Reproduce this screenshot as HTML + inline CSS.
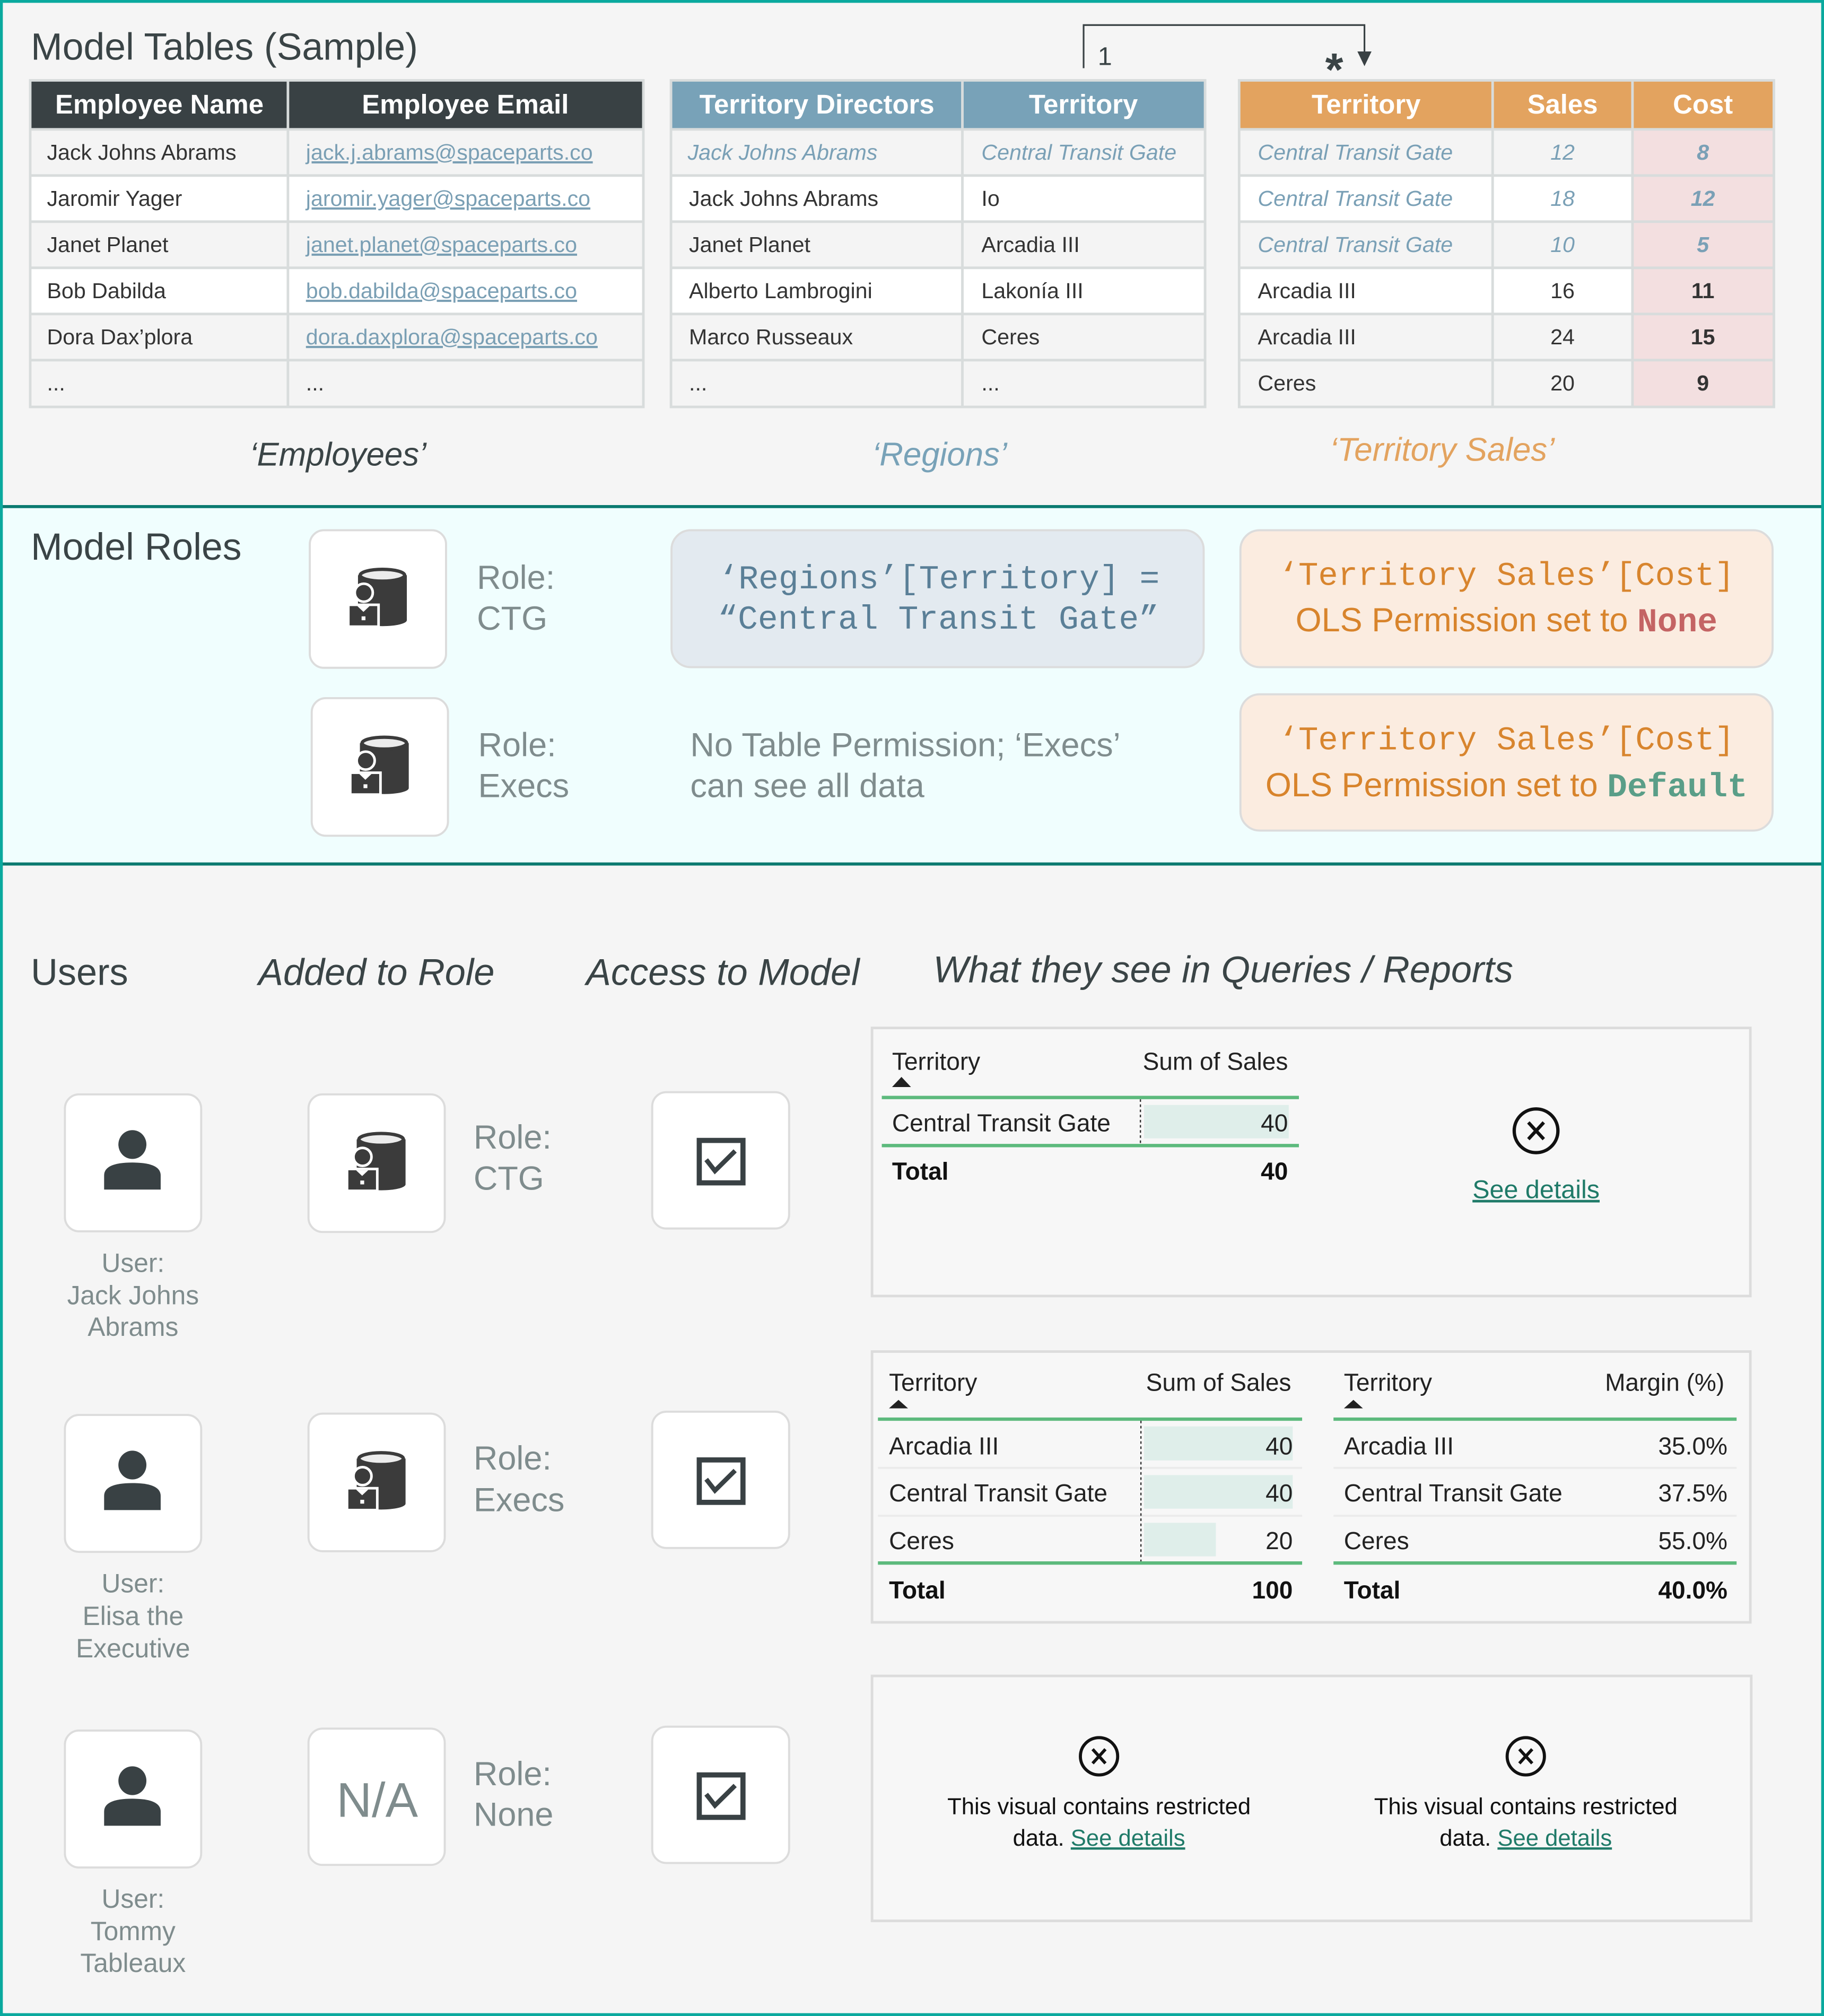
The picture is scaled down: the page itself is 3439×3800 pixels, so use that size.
<!DOCTYPE html>
<html><head><meta charset="utf-8"><style>
html,body{margin:0;padding:0;width:3439px;height:3800px;overflow:hidden;background:#f5f5f5}
svg{display:block}
text{font-family:"Liberation Sans",sans-serif}
.m{font-family:"Liberation Mono",monospace}
</style></head><body>
<svg width="3439" height="3800" viewBox="0 0 1419 1568" preserveAspectRatio="none" xmlns="http://www.w3.org/2000/svg">
<defs>
<g id="db">
<rect x="0" y="0" width="106" height="107" rx="11" fill="#ffffff" stroke="#dcdcdc" stroke-width="1.6"/>
<path d="M37.5,35 V70 A19,4.6 0 0 0 75.5,70 V35 Z" fill="#3b3b3b"/>
<ellipse cx="56.5" cy="35" rx="17.3" ry="4.6" fill="#ececec" stroke="#3b3b3b" stroke-width="2.6"/>
<circle cx="42" cy="48.6" r="7" fill="#3b3b3b" stroke="#ffffff" stroke-width="2"/>
<rect x="30" y="58" width="23.5" height="17" fill="#3b3b3b" stroke="#ffffff" stroke-width="2"/>
<polygon points="37,59 41.75,63.5 46.5,59" fill="#ffffff"/>
<rect x="40.3" y="67" width="3" height="3" fill="#ffffff"/>
</g>
<g id="user">
<rect x="0" y="0" width="106" height="106.5" rx="11" fill="#ffffff" stroke="#dcdcdc" stroke-width="1.6"/>
<ellipse cx="52.5" cy="39" rx="10.9" ry="11.2" fill="#394144"/>
<path d="M30.5,74 V63 Q30.5,53 52.5,53 Q74.5,53 74.5,63 V74 Z" fill="#394144"/>
</g>
<g id="chk">
<rect x="0" y="0" width="106.5" height="106" rx="11" fill="#ffffff" stroke="#dcdcdc" stroke-width="1.6"/>
<rect x="36.6" y="37.5" width="34" height="33" fill="#ffffff" stroke="#394144" stroke-width="4"/>
<polyline points="42,52.5 48.8,61.2 64.5,45.7" fill="none" stroke="#394144" stroke-width="3.6"/>
</g>
</defs>

<!-- backgrounds -->
<rect x="0" y="0" width="1419" height="1568" fill="#f5f5f5"/>
<rect x="0" y="394" width="1419" height="278" fill="#f0fefe"/>
<line x1="0" y1="394" x2="1419" y2="394" stroke="#0b7a70" stroke-width="2.4"/>
<line x1="0" y1="672" x2="1419" y2="672" stroke="#0b7a70" stroke-width="2.4"/>
<rect x="1" y="1" width="1417" height="1566" fill="none" stroke="#0aa99e" stroke-width="2.4"/>

<!-- Section 1 title -->
<text x="24" y="46.5" font-size="29.5" fill="#3a4446">Model Tables (Sample)</text>

<!-- relationship -->
<path d="M843,53 V19.5 H1061.5 V42" fill="none" stroke="#394144" stroke-width="1.3"/>
<polygon points="1056,40 1067,40 1061.5,51.5" fill="#394144"/>
<text x="854" y="50.5" font-size="20" fill="#3a4446">1</text>
<text x="1038" y="66.5" font-size="36" font-weight="bold" fill="#3a4446" text-anchor="middle">*</text>

<!-- Table 1 -->
<g>
<rect x="24" y="100.6" width="476" height="35.9" fill="#f4f4f4"/>
<rect x="24" y="136.5" width="476" height="35.9" fill="#ffffff"/>
<rect x="24" y="172.4" width="476" height="35.9" fill="#f4f4f4"/>
<rect x="24" y="208.3" width="476" height="35.9" fill="#ffffff"/>
<rect x="24" y="244.2" width="476" height="35.9" fill="#f4f4f4"/>
<rect x="24" y="280.1" width="476" height="35.9" fill="#f4f4f4"/>
<rect x="24" y="63" width="476" height="37.6" fill="#394144"/>
<g stroke="#d8dcdc" stroke-width="2">
<rect x="23.5" y="62.5" width="477" height="254" fill="none"/>
<line x1="224" y1="63" x2="224" y2="316"/>
<line x1="24" y1="100.6" x2="500" y2="100.6"/>
<line x1="24" y1="136.5" x2="500" y2="136.5"/>
<line x1="24" y1="172.4" x2="500" y2="172.4"/>
<line x1="24" y1="208.3" x2="500" y2="208.3"/>
<line x1="24" y1="244.2" x2="500" y2="244.2"/>
<line x1="24" y1="280.1" x2="500" y2="280.1"/>
</g>
<text x="124" y="88.4" font-size="21" font-weight="bold" fill="#ffffff" text-anchor="middle">Employee Name</text>
<text x="362" y="88.4" font-size="21" font-weight="bold" fill="#ffffff" text-anchor="middle">Employee Email</text>
<g font-size="17" fill="#333">
<text x="36.5" y="124.2">Jack Johns Abrams</text>
<text x="36.5" y="160.1">Jaromir Yager</text>
<text x="36.5" y="196">Janet Planet</text>
<text x="36.5" y="231.9">Bob Dabilda</text>
<text x="36.5" y="267.8">Dora Dax’plora</text>
<text x="36.5" y="303.7">...</text>
<text x="238" y="303.7">...</text>
</g>
<g font-size="17" fill="#7a9fb4" style="text-decoration:underline">
<text x="238" y="124.2">jack.j.abrams@spaceparts.co</text>
<text x="238" y="160.1">jaromir.yager@spaceparts.co</text>
<text x="238" y="196">janet.planet@spaceparts.co</text>
<text x="238" y="231.9">bob.dabilda@spaceparts.co</text>
<text x="238" y="267.8">dora.daxplora@spaceparts.co</text>
</g>
</g>

<!-- Table 2 -->
<g>
<rect x="522.5" y="100.6" width="414.5" height="35.9" fill="#f4f4f4"/>
<rect x="522.5" y="136.5" width="414.5" height="35.9" fill="#ffffff"/>
<rect x="522.5" y="172.4" width="414.5" height="35.9" fill="#f4f4f4"/>
<rect x="522.5" y="208.3" width="414.5" height="35.9" fill="#ffffff"/>
<rect x="522.5" y="244.2" width="414.5" height="35.9" fill="#f4f4f4"/>
<rect x="522.5" y="280.1" width="414.5" height="35.9" fill="#f4f4f4"/>
<rect x="522.5" y="63" width="414.5" height="37.6" fill="#78a2b8"/>
<g stroke="#d8dcdc" stroke-width="2">
<rect x="522" y="62.5" width="415.5" height="254" fill="none"/>
<line x1="748.7" y1="63" x2="748.7" y2="316"/>
<line x1="522.5" y1="100.6" x2="937" y2="100.6"/>
<line x1="522.5" y1="136.5" x2="937" y2="136.5"/>
<line x1="522.5" y1="172.4" x2="937" y2="172.4"/>
<line x1="522.5" y1="208.3" x2="937" y2="208.3"/>
<line x1="522.5" y1="244.2" x2="937" y2="244.2"/>
<line x1="522.5" y1="280.1" x2="937" y2="280.1"/>
</g>
<text x="635.5" y="88.4" font-size="21" font-weight="bold" fill="#ffffff" text-anchor="middle">Territory Directors</text>
<text x="842.8" y="88.4" font-size="21" font-weight="bold" fill="#ffffff" text-anchor="middle">Territory</text>
<g font-size="17" fill="#7aa0b6" font-style="italic">
<text x="535" y="124.2">Jack Johns Abrams</text>
<text x="763.5" y="124.2">Central Transit Gate</text>
</g>
<g font-size="17" fill="#333">
<text x="536" y="160.1">Jack Johns Abrams</text>
<text x="536" y="196">Janet Planet</text>
<text x="536" y="231.9">Alberto Lambrogini</text>
<text x="536" y="267.8">Marco Russeaux</text>
<text x="536" y="303.7">...</text>
<text x="763.5" y="160.1">Io</text>
<text x="763.5" y="196">Arcadia III</text>
<text x="763.5" y="231.9">Lakonía III</text>
<text x="763.5" y="267.8">Ceres</text>
<text x="763.5" y="303.7">...</text>
</g>
</g>

<!-- Table 3 -->
<g>
<rect x="964.5" y="100.6" width="415" height="35.9" fill="#f4f4f4"/>
<rect x="964.5" y="136.5" width="415" height="35.9" fill="#ffffff"/>
<rect x="964.5" y="172.4" width="415" height="35.9" fill="#f4f4f4"/>
<rect x="964.5" y="208.3" width="415" height="35.9" fill="#ffffff"/>
<rect x="964.5" y="244.2" width="415" height="35.9" fill="#f4f4f4"/>
<rect x="964.5" y="280.1" width="415" height="35.9" fill="#f4f4f4"/>
<rect x="1270" y="100.6" width="109.5" height="215.4" fill="#f3dfe0"/>
<rect x="964.5" y="63" width="415" height="37.6" fill="#e3a35f"/>
<g stroke="#d8dcdc" stroke-width="2">
<rect x="964" y="62.5" width="416" height="254" fill="none"/>
<line x1="1161.2" y1="63" x2="1161.2" y2="316"/>
<line x1="1270" y1="63" x2="1270" y2="316"/>
<line x1="964.5" y1="100.6" x2="1380" y2="100.6"/>
<line x1="964.5" y1="136.5" x2="1380" y2="136.5"/>
<line x1="964.5" y1="172.4" x2="1380" y2="172.4"/>
<line x1="964.5" y1="208.3" x2="1380" y2="208.3"/>
<line x1="964.5" y1="244.2" x2="1380" y2="244.2"/>
<line x1="964.5" y1="280.1" x2="1380" y2="280.1"/>
</g>
<text x="1062.8" y="88.4" font-size="21" font-weight="bold" fill="#ffffff" text-anchor="middle">Territory</text>
<text x="1215.6" y="88.4" font-size="21" font-weight="bold" fill="#ffffff" text-anchor="middle">Sales</text>
<text x="1324.8" y="88.4" font-size="21" font-weight="bold" fill="#ffffff" text-anchor="middle">Cost</text>
<g font-size="17" fill="#7aa0b6" font-style="italic">
<text x="978.5" y="124.2">Central Transit Gate</text>
<text x="978.5" y="160.1">Central Transit Gate</text>
<text x="978.5" y="196">Central Transit Gate</text>
<text x="1215.6" y="124.2" text-anchor="middle">12</text>
<text x="1215.6" y="160.1" text-anchor="middle">18</text>
<text x="1215.6" y="196" text-anchor="middle">10</text>
<text x="1324.8" y="124.2" text-anchor="middle" font-weight="bold">8</text>
<text x="1324.8" y="160.1" text-anchor="middle" font-weight="bold">12</text>
<text x="1324.8" y="196" text-anchor="middle" font-weight="bold">5</text>
</g>
<g font-size="17" fill="#333">
<text x="978.5" y="231.9">Arcadia III</text>
<text x="978.5" y="267.8">Arcadia III</text>
<text x="978.5" y="303.7">Ceres</text>
<text x="1215.6" y="231.9" text-anchor="middle">16</text>
<text x="1215.6" y="267.8" text-anchor="middle">24</text>
<text x="1215.6" y="303.7" text-anchor="middle">20</text>
<text x="1324.8" y="231.9" text-anchor="middle" font-weight="bold">11</text>
<text x="1324.8" y="267.8" text-anchor="middle" font-weight="bold">15</text>
<text x="1324.8" y="303.7" text-anchor="middle" font-weight="bold">9</text>
</g>
</g>

<!-- Table labels -->
<text x="263" y="362" font-size="25.5" font-style="italic" fill="#3a4446" text-anchor="middle">‘Employees’</text>
<text x="731" y="362" font-size="25.5" font-style="italic" fill="#78a2b8" text-anchor="middle">‘Regions’</text>
<text x="1122" y="358.3" font-size="25.5" font-style="italic" fill="#e3a35f" text-anchor="middle">‘Territory Sales’</text>

<!-- Section 2 -->
<text x="24" y="435.4" font-size="29.5" fill="#3a4446">Model Roles</text>
<use href="#db" x="241" y="412.4"/>
<use href="#db" x="242.5" y="543"/>
<g font-size="26" fill="#7f8c8d">
<text x="371" y="458">Role:</text>
<text x="371" y="489.7">CTG</text>
<text x="372" y="588.3">Role:</text>
<text x="372" y="620">Execs</text>
<text x="537" y="588.3">No Table Permission; ‘Execs’</text>
<text x="537" y="620">can see all data</text>
</g>
<rect x="522.4" y="412.4" width="414" height="106.5" rx="15" fill="#e3eaf0" stroke="#dcdcdc" stroke-width="1.6"/>
<g class="m" font-size="26" fill="#5a7f97" text-anchor="middle">
<text class="m" x="730.5" y="457.6">‘Regions’[Territory] =</text>
<text class="m" x="730" y="489">“Central Transit Gate”</text>
</g>
<rect x="965" y="412.4" width="414" height="106.5" rx="15" fill="#fbece0" stroke="#dcdcdc" stroke-width="1.6"/>
<rect x="965" y="540" width="414" height="106" rx="15" fill="#fbece0" stroke="#dcdcdc" stroke-width="1.6"/>
<text class="m" x="1172" y="455" font-size="25.7" fill="#d8852e" text-anchor="middle">‘Territory Sales’[Cost]</text>
<text x="1172" y="491" font-size="26" fill="#d8842c" text-anchor="middle">OLS Permission set to <tspan class="m" font-weight="bold" fill="#c46464">None</tspan></text>
<text class="m" x="1172" y="582.8" font-size="25.7" fill="#d8852e" text-anchor="middle">‘Territory Sales’[Cost]</text>
<text x="1172" y="619.3" font-size="26" fill="#d8842c" text-anchor="middle">OLS Permission set to <tspan class="m" font-weight="bold" fill="#5a9e88">Default</tspan></text>

<!-- Section 3 headers -->
<text x="24" y="766" font-size="29" fill="#3a4446">Users</text>
<g font-size="29" font-style="italic" fill="#3a4446">
<text x="201" y="766">Added to Role</text>
<text x="456" y="766">Access to Model</text>
<text x="726" y="764">What they see in Queries / Reports</text>
</g>

<!-- rows -->
<use href="#user" x="50.5" y="851.2"/>
<use href="#db" x="240" y="851.2"/>
<use href="#chk" x="507.4" y="849.5"/>
<use href="#user" x="50.5" y="1100.5"/>
<use href="#db" x="240" y="1099.5"/>
<use href="#chk" x="507.4" y="1098"/>
<use href="#user" x="50.5" y="1346"/>
<rect x="240" y="1344.5" width="106" height="106" rx="11" fill="#ffffff" stroke="#dcdcdc" stroke-width="1.6"/>
<text x="293.5" y="1413" font-size="38" fill="#7f8c8d" text-anchor="middle">N/A</text>
<use href="#chk" x="507.4" y="1343"/>

<g font-size="26" fill="#7f8c8d">
<text x="368.4" y="893.3">Role:</text>
<text x="368.4" y="925.3">CTG</text>
<text x="368.4" y="1142.9">Role:</text>
<text x="368.4" y="1175.4">Execs</text>
<text x="368.4" y="1388.5">Role:</text>
<text x="368.4" y="1420">None</text>
</g>
<g font-size="20.5" fill="#7f8c8d" text-anchor="middle">
<text x="103.5" y="989.2">User:</text>
<text x="103.5" y="1014.4">Jack Johns</text>
<text x="103.5" y="1039">Abrams</text>
<text x="103.5" y="1238.5">User:</text>
<text x="103.5" y="1263.8">Elisa the</text>
<text x="103.5" y="1289">Executive</text>
<text x="103.5" y="1483.8">User:</text>
<text x="103.5" y="1509">Tommy</text>
<text x="103.5" y="1533.8">Tableaux</text>
</g>

<!-- Panel 1 -->
<rect x="678.4" y="799.5" width="683.3" height="208.5" fill="#f7f7f7" stroke="#dcdcdc" stroke-width="2"/>
<g font-size="19" fill="#222">
<text x="694" y="832">Territory</text>
<text x="1002" y="832" text-anchor="end">Sum of Sales</text>
</g>
<polygon points="694,845.5 701.3,837.6 708.7,845.5" fill="#222"/>
<line x1="686" y1="853.6" x2="1010.5" y2="853.6" stroke="#5dba7d" stroke-width="2.6"/>
<rect x="890" y="859.4" width="112.6" height="26" fill="#dfeeea"/>
<line x1="887.2" y1="855" x2="887.2" y2="889.5" stroke="#333" stroke-width="1" stroke-dasharray="2,2"/>
<g font-size="19" fill="#222">
<text x="694" y="880">Central Transit Gate</text>
<text x="1002" y="880" text-anchor="end">40</text>
</g>
<line x1="686" y1="891" x2="1010.5" y2="891" stroke="#5dba7d" stroke-width="2.6"/>
<g font-size="19" fill="#111" font-weight="bold">
<text x="694" y="917.5">Total</text>
<text x="1002" y="917.5" text-anchor="end">40</text>
</g>
<circle cx="1195" cy="879.5" r="17" fill="none" stroke="#111" stroke-width="2.6"/>
<path d="M1189,873 L1201,886 M1201,873 L1189,886" stroke="#111" stroke-width="2.6"/>
<text x="1195" y="932" font-size="20" fill="#1f7a68" text-anchor="middle" style="text-decoration:underline">See details</text>

<!-- Panel 2 -->
<rect x="678.4" y="1051.2" width="683.3" height="210.6" fill="#f7f7f7" stroke="#dcdcdc" stroke-width="2"/>
<g font-size="19" fill="#222">
<text x="691.6" y="1081.7">Territory</text>
<text x="1004.5" y="1081.7" text-anchor="end">Sum of Sales</text>
<text x="1045.5" y="1081.7">Territory</text>
<text x="1341.5" y="1081.7" text-anchor="end">Margin (%)</text>
</g>
<polygon points="691.6,1095.4 699,1088.8 706.4,1095.4" fill="#222"/>
<polygon points="1045.5,1095.4 1052.9,1088.8 1060.3,1095.4" fill="#222"/>
<rect x="890" y="1109.4" width="115.7" height="26.5" fill="#dfeeea"/>
<rect x="890" y="1147.3" width="115.7" height="26.1" fill="#dfeeea"/>
<rect x="890" y="1184.4" width="55.9" height="26.1" fill="#dfeeea"/>
<g stroke="#ebebeb" stroke-width="1.5">
<line x1="683" y1="1141.7" x2="1013" y2="1141.7"/>
<line x1="683" y1="1178.9" x2="1013" y2="1178.9"/>
<line x1="1037.4" y1="1141.7" x2="1351" y2="1141.7"/>
<line x1="1037.4" y1="1178.9" x2="1351" y2="1178.9"/>
</g>
<line x1="887.6" y1="1105" x2="887.6" y2="1215" stroke="#333" stroke-width="1" stroke-dasharray="2,2"/>
<g stroke="#5dba7d" stroke-width="2.6">
<line x1="683" y1="1103.8" x2="1013" y2="1103.8"/>
<line x1="683" y1="1215.7" x2="1013" y2="1215.7"/>
<line x1="1037.4" y1="1103.8" x2="1351" y2="1103.8"/>
<line x1="1037.4" y1="1215.7" x2="1351" y2="1215.7"/>
</g>
<g font-size="19" fill="#222">
<text x="691.6" y="1131.2">Arcadia III</text>
<text x="691.6" y="1167.8">Central Transit Gate</text>
<text x="691.6" y="1204.9">Ceres</text>
<text x="1005.7" y="1131.2" text-anchor="end">40</text>
<text x="1005.7" y="1167.8" text-anchor="end">40</text>
<text x="1005.7" y="1204.9" text-anchor="end">20</text>
<text x="1045.5" y="1131.2">Arcadia III</text>
<text x="1045.5" y="1167.8">Central Transit Gate</text>
<text x="1045.5" y="1204.9">Ceres</text>
<text x="1343.9" y="1131.2" text-anchor="end">35.0%</text>
<text x="1343.9" y="1167.8" text-anchor="end">37.5%</text>
<text x="1343.9" y="1204.9" text-anchor="end">55.0%</text>
</g>
<g font-size="19" fill="#111" font-weight="bold">
<text x="691.6" y="1243.3">Total</text>
<text x="1005.7" y="1243.3" text-anchor="end">100</text>
<text x="1045.5" y="1243.3">Total</text>
<text x="1343.9" y="1243.3" text-anchor="end">40.0%</text>
</g>

<!-- Panel 3 -->
<rect x="678.4" y="1303.5" width="684" height="190.5" fill="#f7f7f7" stroke="#dcdcdc" stroke-width="2"/>
<circle cx="855" cy="1366" r="14.5" fill="none" stroke="#111" stroke-width="2.4"/>
<path d="M850,1360.5 L860,1371.5 M860,1360.5 L850,1371.5" stroke="#111" stroke-width="2.4"/>
<circle cx="1187" cy="1366" r="14.5" fill="none" stroke="#111" stroke-width="2.4"/>
<path d="M1182,1360.5 L1192,1371.5 M1192,1360.5 L1182,1371.5" stroke="#111" stroke-width="2.4"/>
<g font-size="18" fill="#111" text-anchor="middle">
<text x="855" y="1411">This visual contains restricted</text>
<text x="855" y="1435.6">data. <tspan fill="#1f7a68" style="text-decoration:underline">See details</tspan></text>
<text x="1187" y="1411">This visual contains restricted</text>
<text x="1187" y="1435.6">data. <tspan fill="#1f7a68" style="text-decoration:underline">See details</tspan></text>
</g>
</svg>
</body></html>
